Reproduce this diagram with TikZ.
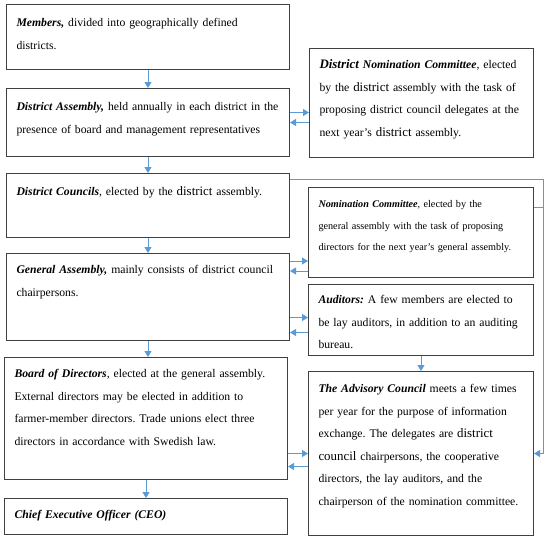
\documentclass[tikz,border=0pt]{standalone}
\usepackage{fontspec}
\setmainfont{Liberation Serif}
\usetikzlibrary{arrows.meta}
\definecolor{arrowblue}{HTML}{5B9BD5}
\definecolor{boxgray}{HTML}{404040}
\newcommand\bigw[1]{{\fontsize{12.9pt}{22.5pt}\selectfont #1}}
\newcommand\ttl[1]{\textbf{\textit{#1}}}
\newcommand\lin[1]{\mbox{#1}}
\frenchspacing
\begin{document}
\begin{tikzpicture}[x=1pt,y=-1pt,
  box/.style={draw=boxgray, line width=1pt, anchor=north west, inner xsep=10pt, inner ysep=0pt,
    align=left, font=\fontsize{11.7pt}{22.5pt}\selectfont},
  arr/.style={draw=arrowblue, line width=1pt, -{Triangle[length=6pt,width=7pt]}},
  bus/.style={draw=arrowblue, line width=1pt}]
\useasboundingbox (0,0) rectangle (550,542);
% left column
\node[box, text width=263pt, text height=22pt, text depth=43pt] (mem) at (6,4)
  {\lin{\ttl{Members,} divided into geographically defined}\\\lin{districts.}};
\node[box, text width=263pt, text height=22pt, text depth=46pt] (da) at (6,88)
  {\lin{\ttl{District Assembly,} held annually in each district in the}\\\lin{presence of board and management representatives}};
\node[box, text width=263pt, text height=22pt, text depth=42pt] (dc) at (6,173)
  {\lin{\ttl{District Councils}, elected by the \bigw{district} assembly.}};
\node[box, text width=263pt, text height=20pt, text depth=67pt] (ga) at (6,253)
  {\lin{\ttl{General Assembly,} mainly consists of district council}\\\lin{chairpersons.}};
\node[box, text width=263pt, text height=20pt, text depth=102pt] (bd) at (4,357)
  {\lin{\ttl{Board of Directors}, elected at the general assembly.}\\\lin{External directors may be elected in addition to}\\\lin{farmer-member directors. Trade unions elect three}\\\lin{directors in accordance with Swedish law.}};
\node[box, text width=263pt, text height=20pt, text depth=16pt] (ceo) at (4,498)
  {\lin{\ttl{Chief Executive Officer (CEO)}}};
% right column
\node[box, text width=204pt, text height=20pt, text depth=89pt] (dnc) at (309,48)
  {\lin{\ttl{\bigw{District} Nomination Committee}, elected}\\\lin{by the \bigw{district} assembly with the task of}\\\lin{proposing district council delegates at the}\\\lin{next year’s \bigw{district} assembly.}};
\node[box, text width=205pt, text height=20pt, text depth=70pt, font=\fontsize{10.2pt}{21.5pt}\selectfont] (nc) at (308,187)
  {\lin{\ttl{Nomination Committee}, elected by the}\\\lin{general assembly with the task of proposing}\\\lin{directors for the next year’s general assembly.}};
\node[box, text width=205pt, text height=19pt, text depth=52pt] (aud) at (308,284)
  {\lin{\ttl{Auditors:} A few members are elected to}\\\lin{be lay auditors, in addition to an auditing}\\\lin{bureau.}};
\node[box, text width=205pt, text height=21pt, text depth=143pt] (adv) at (308,371)
  {\lin{\ttl{The Advisory Council} meets a few times}\\\lin{per year for the purpose of information}\\\lin{exchange. The delegates are \bigw{district}}\\\lin{\bigw{council} chairpersons, the cooperative}\\\lin{directors, the lay auditors, and the}\\\lin{chairperson of the nomination committee.}};
% vertical flow
\draw[arr] (mem.south) -- (mem.south |- da.north);
\draw[arr] (da.south) -- (da.south |- dc.north);
\draw[arr] (dc.south) -- (dc.south |- ga.north);
\draw[arr] (ga.south) -- (ga.south |- bd.north);
\draw[arr] (bd.south) -- (bd.south |- ceo.north);
\draw[arr] (aud.south) -- (aud.south |- adv.north);
% horizontal pairs
\coordinate (p1) at ([yshift=-9.5pt]dnc.west);
\draw[arr] (p1 -| da.east) -- (p1);
\draw[arr] (da.east -| dnc.west) -- (da.east);
\coordinate (q1) at ([yshift=17pt]nc.south west);
\coordinate (q2) at ([yshift=7pt]nc.south west);
\draw[arr] (q1 -| ga.east) -- (q1);
\draw[arr] (q2) -- (q2 -| ga.east);
\coordinate (s1) at ([yshift=2.5pt]aud.west);
\coordinate (s2) at ([yshift=-12.5pt]aud.west);
\draw[arr] (s1 -| ga.east) -- (s1);
\draw[arr] (s2) -- (s2 -| ga.east);
\coordinate (t2) at ([yshift=-13pt]adv.west);
\draw[arr] (adv.west -| bd.east) -- (adv.west);
\draw[arr] (t2) -- (t2 -| bd.east);
% right bus
\coordinate (rt) at (543,0);
\coordinate (u1) at ([yshift=-6pt]dc.north east);
\coordinate (u2) at ([yshift=-20pt]nc.north east);
\draw[bus, -{Triangle[length=6pt,width=7pt]}] (u1) -- (u1 -| rt) -- (rt |- adv.east) -- (adv.east);
\draw[bus] (u2) -- (u2 -| rt);
\end{tikzpicture}
\end{document}
